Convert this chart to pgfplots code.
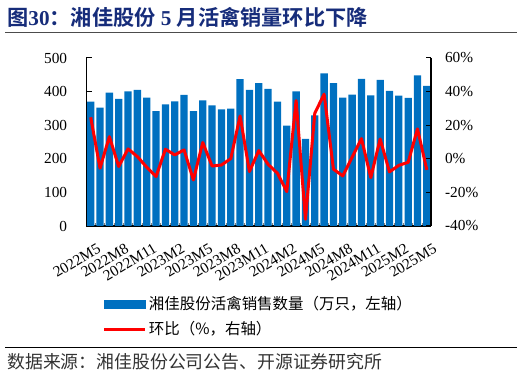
\documentclass[border=0pt]{standalone}
\usepackage{fontspec}
\usepackage{pgfplots}
\usepackage{pgfplotstable}
\pgfplotsset{compat=1.18}
\setmainfont{Liberation Serif}
\newfontfamily\cjk[BoldFont={Noto Sans CJK SC Bold}]{Noto Sans CJK SC}
\definecolor{barblue}{RGB}{0,112,192}
\definecolor{titleblue}{RGB}{22,44,122}

\pgfplotstableread{
x v
1 370
2 352
3 397
4 378
5 401
6 405
7 382
8 342
9 362
10 371
11 390
12 342
13 374
14 359
15 347
16 349
17 437
18 405
19 425
20 408
21 370
22 299
23 401
24 259
25 329
26 454
27 425
28 382
29 391
30 438
31 389
32 435
33 402
34 388
35 381
36 448
37 417
}\barsdata

\pgfplotstableread{
x r
1 24.7
2 -5.6
3 13.2
4 -4.6
5 5.9
6 1.3
7 -5.0
8 -10.6
9 5.7
10 2.3
11 5.3
12 -12.6
13 9.7
14 -4.3
15 -3.7
16 0.1
17 25.5
18 -7.6
19 4.9
20 -3.3
21 -8.6
22 -19.5
23 34.7
24 -36.0
25 27.1
26 38.5
27 -6.2
28 -10.2
29 0.9
30 12.0
31 -11.2
32 11.8
33 -7.8
34 -3.9
35 -2.1
36 17.8
37 -6.6
}\ratiodata

\begin{document}
\begin{tikzpicture}
\useasboundingbox (0,0) rectangle (391.5pt,282.75pt);
\node[anchor=west, text=titleblue, inner sep=0pt, font=\fontsize{15.9}{18}\selectfont\bfseries] at (5.25pt,270pt)
  {{\cjk 图}30{\cjk ：湘佳股份} 5 {\cjk 月活禽销量环比下降}};
\draw[line width=0.75pt, black!70] (3.75pt,258pt) -- (387.75pt,258pt);
\draw[line width=0.75pt, black] (3.75pt,22.1pt) -- (387.75pt,22.1pt);
\node[anchor=west, inner sep=0pt, text=black!80, font=\cjk\fontsize{13.4}{15}\selectfont] at (5.25pt,11.6pt)
  {数据来源：湘佳股份公司公告、开源证券研究所};

\begin{axis}[
  at={(64.875pt,113.25pt)}, anchor=south west,
  scale only axis, width=258.4pt, height=126pt,
  xmin=0.55, xmax=37.45, ymin=0, ymax=500,
  axis x line*=bottom, axis y line*=left,
  axis line style={line width=0.9pt, black},
  ytick={0,100,200,300,400,500},
  yticklabels={0,100,200,300,400,500},
  xtick={1,4,...,37},
  xticklabels={2022M5,2022M8,2022M11,2023M2,2023M5,2023M8,2023M11,2024M2,2024M5,2024M8,2024M11,2025M2,2025M5},
  minor xtick={1.5,2.5,...,36.5},
  tick align=inside,
  major tick length=3.75pt, minor tick length=2.5pt,
  tick style={line width=0.75pt, black},
  minor tick style={line width=0.75pt, gray},
  ticklabel style={font=\fontsize{11.5}{13}\selectfont},
  yticklabel style={xshift=-11pt},
  xticklabel style={xshift=5.5pt, yshift=-7.5pt, rotate=31, anchor=north east},
]
\addplot[ybar, bar width=0.78, fill=barblue, draw=none] table[x=x,y=v]{\barsdata};
\end{axis}

\begin{axis}[
  at={(64.875pt,113.25pt)}, anchor=south west,
  scale only axis, width=258.4pt, height=126pt,
  xmin=0.55, xmax=37.45, ymin=-40, ymax=60,
  axis x line=none, axis y line*=right,
  axis line style={line width=0.9pt, black},
  ytick={-40,-20,0,20,40,60},
  yticklabels={-40\%,-20\%,0\%,20\%,40\%,60\%},
  tick align=inside,
  major tick length=3.75pt,
  tick style={line width=0.75pt, black},
  ticklabel style={font=\fontsize{11.5}{13}\selectfont},
  yticklabel style={xshift=7pt},
  legend cell align=left,
  legend style={at={(0.046,-0.405)}, anchor=north west, draw=none, fill=none,
    inner sep=0pt, row sep=4.5pt,
    nodes={inner sep=1.5pt},
    font=\cjk\fontsize{11.6}{14}\selectfont},
]
\addlegendimage{legend image code/.code={\fill[barblue] (0pt,-3pt) rectangle (31pt,3pt);}}
\addlegendentry{湘佳股份活禽销售数量（万只，左轴）}
\addplot[red, line width=2.25pt, line join=round,
  legend image code/.code={\draw[red, line width=2.25pt] (0pt,0pt) -- (31pt,0pt);}]
  table[x=x,y=r]{\ratiodata};
\addlegendentry{环比（\%，右轴）}
\end{axis}
\end{tikzpicture}
\end{document}
